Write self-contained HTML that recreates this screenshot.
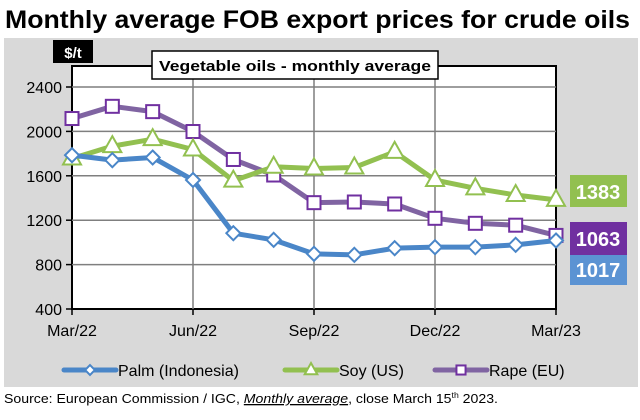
<!DOCTYPE html>
<html><head><meta charset="utf-8"><style>
body{margin:0;background:#fff;width:640px;height:415px;overflow:hidden;font-family:"Liberation Sans",sans-serif}
</style></head><body>
<svg id="chart" width="640" height="415" xmlns="http://www.w3.org/2000/svg" font-family="Liberation Sans, sans-serif">
<text x="5" y="28" font-size="25" font-weight="bold" textLength="625" lengthAdjust="spacingAndGlyphs">Monthly average FOB export prices for crude oils</text>
<rect x="4" y="38" width="634" height="349" fill="#d9d9d9"/>
<rect x="72" y="66" width="484" height="243" fill="#fff" stroke="#000" stroke-width="2"/>
<g id="grid"></g>
<g id="axes"></g>
<g id="series"></g>
<rect x="53" y="40" width="40" height="23" fill="#000"/>
<text x="73" y="58" font-size="15" font-weight="bold" fill="#fff" text-anchor="middle">$/t</text>
<rect x="152" y="51" width="286" height="28" fill="#fff" stroke="#000" stroke-width="1.5"/>
<text x="295" y="71" font-size="15" font-weight="bold" text-anchor="middle" textLength="272" lengthAdjust="spacingAndGlyphs">Vegetable oils - monthly average</text>
<g><rect x="570" y="175" width="57" height="32" fill="#92c050"/><text x="598" y="199" font-size="20" font-weight="bold" fill="#fff" text-anchor="middle">1383</text></g>
<g><rect x="570" y="222" width="57" height="33" fill="#7030a0"/><text x="598" y="246" font-size="20" font-weight="bold" fill="#fff" text-anchor="middle">1063</text></g>
<g><rect x="570" y="255" width="57" height="30" fill="#5b93d3"/><text x="598" y="277" font-size="20" font-weight="bold" fill="#fff" text-anchor="middle">1017</text></g>
<g id="legend"></g>
<text x="4" y="403" font-size="13" textLength="494" lengthAdjust="spacingAndGlyphs">Source: European Commission / IGC, <tspan text-decoration="underline" font-style="italic">Monthly average</tspan>, close March 15<tspan font-size="8" dy="-5">th</tspan><tspan dy="5"> 2023.</tspan></text>
</svg>
<script>
const months = ["Mar/22","Apr/22","May/22","Jun/22","Jul/22","Aug/22","Sep/22","Oct/22","Nov/22","Dec/22","Jan/23","Feb/23","Mar/23"];
const xTickLabels = ["Mar/22","Jun/22","Sep/22","Dec/22","Mar/23"];
const yTicks = [400,800,1200,1600,2000,2400];
const palm = [1786,1741,1765,1562,1083,1023,897,888,948,957,957,978,1017];
const soy = [1756,1867,1930,1837,1556,1681,1666,1675,1816,1562,1487,1427,1383];
const rape = [2116,2226,2178,1999,1747,1607,1358,1364,1346,1217,1172,1155,1063];

const NS="http://www.w3.org/2000/svg";
const X0=72,X1=556,Y0=309,Y1=87;
function xs(i){return X0+(X1-X0)*i/(months.length-1);}
function ys(v){return Y0-(v-400)/2000*(Y0-Y1);}
function mk(tag,attrs,parent){const e=document.createElementNS(NS,tag);for(const k in attrs)e.setAttribute(k,attrs[k]);parent.appendChild(e);return e;}
const grid=document.getElementById('grid'),axes=document.getElementById('axes'),ser=document.getElementById('series'),leg=document.getElementById('legend');
yTicks.forEach(v=>{
  if(v>400){const l=mk('line',{x1:X0,x2:X1,y1:ys(v),y2:ys(v),stroke:'#7f7f7f','stroke-width':1.5},grid);
  
  }
  const t=mk('line',{x1:X0-6,x2:X0,y1:ys(v),y2:ys(v),stroke:'#000','stroke-width':1.5},axes);
  const tx=mk('text',{x:X0-10,y:ys(v)+6,'font-size':16,'text-anchor':'end'},axes);
  tx.textContent=v;
  
  
});
xTickLabels.forEach(lab=>{
  const i=months.indexOf(lab);
  if(i>0&&i<months.length-1){const l=mk('line',{x1:xs(i),x2:xs(i),y1:66,y2:Y0,stroke:'#7f7f7f','stroke-width':1.5},grid);
  
  }
  mk('line',{x1:xs(i),x2:xs(i),y1:Y0,y2:Y0+6,stroke:'#000','stroke-width':1.5},axes);
  const tx=mk('text',{x:xs(i),y:Y0+27,'font-size':16,'text-anchor':'middle'},axes);
  tx.textContent=lab;
  
  
});
function marker(type,x,y,color,parent,sc){
  sc=sc||1;
  let e;
  if(type==='diamond') e=mk('polygon',{points:`${x},${y-7*sc} ${x+7*sc},${y} ${x},${y+7*sc} ${x-7*sc},${y}`,fill:'#fff',stroke:color,'stroke-width':2},parent);
  else if(type==='tri') e=mk('polygon',{points:`${x},${y-10*sc} ${x+9*sc},${y+6*sc} ${x-9*sc},${y+6*sc}`,fill:'#fff',stroke:color,'stroke-width':2},parent);
  else e=mk('rect',{x:x-6.5*sc,y:y-6.5*sc,width:13*sc,height:13*sc,fill:'#fff',stroke:color,'stroke-width':2},parent);
  return e;
}
const seriesDefs=[
  {name:'rape',data:rape,color:'#8064a2',mcol:'#7030a0',type:'sq'},
  {name:'soy',data:soy,color:'#92c050',mcol:'#92c050',type:'tri'},
  {name:'palm',data:palm,color:'#4a86c8',mcol:'#4a86c8',type:'diamond'}
];
seriesDefs.forEach(s=>{
  const g=mk('g',{},ser);
  
  
  const p=mk('polyline',{points:s.data.map((v,i)=>xs(i)+','+ys(v)).join(' '),fill:'none',stroke:s.color,'stroke-width':5,'stroke-linejoin':'round'},g);
  
  
  s.data.forEach((v,i)=>{
    const m=marker(s.type,xs(i),ys(v),s.mcol,g);
    
    
  });
});
const legendItems=[
  {label:'Palm (Indonesia)',color:'#4a86c8',mcol:'#4a86c8',type:'diamond',x:64},
  {label:'Soy (US)',color:'#92c050',mcol:'#92c050',type:'tri',x:285},
  {label:'Rape (EU)',color:'#8064a2',mcol:'#7030a0',type:'sq',x:435}
];
legendItems.forEach(it=>{
  const g=mk('g',{},leg);
  
  
  mk('line',{x1:it.x,x2:it.x+52,y1:370,y2:370,stroke:it.color,'stroke-width':5,'stroke-linecap':'round'},g);
  marker(it.type,it.x+26,370,it.mcol,g,0.7);
  const t=mk('text',{x:it.x+54,y:376,'font-size':16},g);
  t.textContent=it.label;
});
</script>
</body></html>
